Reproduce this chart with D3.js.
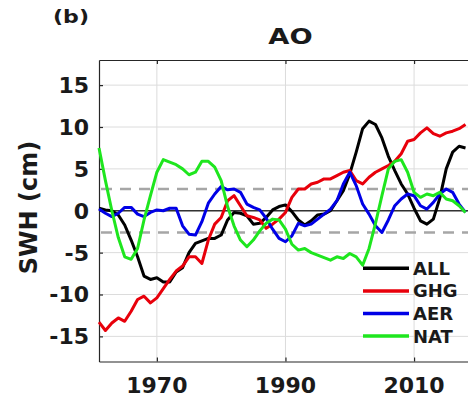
<!DOCTYPE html>
<meta charset="utf-8">
<style>
body { margin: 0; background: #fff; }
svg { display: block; overflow: hidden; }
text { font-family: "DejaVu Sans", sans-serif; font-weight: bold; fill: #1a1a1a; }
.grid line { stroke: #dcdcdc; stroke-width: 1; }
.axis path, .axis line { stroke: #262626; stroke-width: 1.2; }
.series { fill: none; stroke-width: 3; stroke-linejoin: round; }
</style>
<body>
<script src="https://cdn.jsdelivr.net/npm/d3@7"></script>
<script>

var width = 468, height = 399;

// annual values, 1961-2018
var years = d3.range(1961, 2019);
var all = [0.3, 0.1, 0, -0.5, -1.7, -3.5, -5.5, -7.8, -8.2, -8.0,
           -8.5, -8.5, -7.3, -6.8, -5.0, -3.9, -3.6, -3.3, -3.3, -2.9,
           -1.1, -0.2, -0.3, -0.6, -1.6, -1.5, -0.8, 0.1, 0.5, 0.7,
           -0.1, -1.1, -1.7, -1.2, -0.5, -0.4, 0, 1.2, 2.4, 4.4,
           7.0, 9.8, 10.7, 10.3, 8.7, 6.5, 4.8, 3.2, 2.0, 0.3,
           -1.2, -1.6, -1.0, 1.5, 5.0, 7.0, 7.7, 7.5];
var ghg = [-13.3, -14.3, -13.4, -12.8, -13.2, -12.0, -10.6, -10.2, -11.0, -10.4,
           -9.3, -8.2, -7.2, -6.6, -5.5, -5.5, -6.3, -3.5, -1.6, -0.8,
           1.2, 1.8, 0.6, -0.6, -0.8, -1.1, -2.1, -1.6, -1.0, -0.2,
           1.6, 2.6, 2.6, 3.2, 3.4, 3.8, 3.8, 4.2, 4.6, 4.8,
           3.6, 3.2, 4.0, 4.6, 5.0, 5.4, 5.9, 6.8, 8.3, 8.5,
           9.3, 9.9, 9.2, 8.9, 9.3, 9.5, 9.8, 10.3];
var aer = [0.2, -0.3, -0.7, -0.3, 0.4, 0.4, -0.4, -0.7, -0.2, 0.1,
           0, 0.3, 0.3, -1.8, -2.8, -2.9, -1.3, 0.9, 2.0, 2.9,
           2.5, 2.6, 2.2, 0.8, 0.4, 0.1, -0.9, -2.2, -3.3, -3.7,
           -3.0, -1.5, -1.8, -1.6, -1.0, -0.4, 0.2, 1.2, 3.2, 4.6,
           3.0, 0.8, -0.4, -1.8, -2.6, -1.1, 0.6, 1.4, 2.0, 1.8,
           0.6, 0.2, 1.0, 2.0, 2.6, 2.2, 0.8, -0.2];
var nat = [7.5, 3.6, 0, -3.2, -5.5, -5.8, -4.5, -1.1, 1.8, 4.6,
           6.1, 5.8, 5.5, 5.0, 4.3, 4.6, 5.9, 5.9, 5.2, 3.6,
           0.5, -1.8, -3.5, -4.3, -3.5, -2.4, -1.5, -1.0, -1.1, -2.2,
           -4.0, -4.7, -4.5, -5.0, -5.3, -5.6, -5.9, -5.5, -5.7, -5.1,
           -5.5, -6.5, -4.5, -1.5, 1.8, 5.0, 5.9, 6.1, 4.6, 2.2,
           1.6, 2.0, 1.8, 2.2, 1.4, 1.2, 0.6, -0.2];

var seriesNames = ["ALL", "GHG", "AER", "NAT"];
var seriesColors = ["#000000", "#e8000b", "#0000e6", "#1ee61e"];
var seriesData = [all, ghg, aer, nat];

var xTicks = [1970, 1990, 2010];
var yTicks = [-15, -10, -5, 0, 5, 10, 15];
var threshold = 2.6; // dashed band

var plotLeft = 99, plotTop = 60, plotBottom = 361.5;

var x = d3.scaleLinear().domain([1961, 2020]).range([plotLeft, plotLeft + 59 * 6.43]);
var y = d3.scaleLinear().domain([-18, 18]).range([plotBottom, plotTop]);

var svg = d3.select("body").append("svg")
    .attr("width", width)
    .attr("height", height);

// grid
var grid = svg.append("g").attr("class", "grid");
grid.selectAll("line.gx").data(xTicks).enter().append("line")
    .attr("x1", d => x(d)).attr("x2", d => x(d))
    .attr("y1", plotTop).attr("y2", plotBottom);
grid.selectAll("line.gy").data(yTicks).enter().append("line")
    .attr("x1", plotLeft).attr("x2", x(2020))
    .attr("y1", d => y(d)).attr("y2", d => y(d));

// zero line and dashed band
svg.append("line")
    .attr("x1", plotLeft).attr("x2", x(2020))
    .attr("y1", y(0)).attr("y2", y(0))
    .attr("stroke", "#333").attr("stroke-width", 1.3);

svg.selectAll("line.band").data([threshold, -threshold]).enter().append("line")
    .attr("x1", plotLeft + 2).attr("x2", x(2020))
    .attr("y1", d => y(d)).attr("y2", d => y(d))
    .attr("stroke", "#a6a6a6").attr("stroke-width", 2.6)
    .attr("stroke-dasharray", "11,8");

// axes (ticks pointing inward)
svg.append("g").attr("class", "axis")
    .attr("transform", "translate(" + plotLeft + ",0)")
    .call(d3.axisLeft(y).tickValues(yTicks).tickSize(-4).tickSizeOuter(0).tickFormat(""));
svg.append("g").attr("class", "axis")
    .attr("transform", "translate(0," + plotBottom + ")")
    .call(d3.axisBottom(x).tickValues(xTicks).tickSize(-4).tickSizeOuter(0).tickFormat(""));
svg.append("g").attr("class", "axis")
    .attr("transform", "translate(0," + plotTop + ")")
    .call(d3.axisTop(x).tickValues(xTicks).tickSize(-4).tickSizeOuter(0).tickFormat(""));

// tick labels
svg.selectAll("text.ylab").data(yTicks).enter().append("text")
    .attr("x", 89).attr("y", d => y(d)).attr("dy", "0.36em")
    .attr("text-anchor", "end")
    .style("font-size", "22px")
    .text(d => d);
svg.selectAll("text.xlab").data(xTicks).enter().append("text")
    .attr("x", d => x(d)).attr("y", 392.5)
    .attr("text-anchor", "middle")
    .style("font-size", "22px")
    .text(d => d);

// series
var line = d3.line()
    .x((d, i) => x(years[i]))
    .y(d => y(d));

svg.selectAll("path.series").data(seriesData).enter().append("path")
    .attr("class", "series")
    .attr("d", d => line(d))
    .attr("stroke", (d, i) => seriesColors[i]);

// legend
var legend = svg.selectAll("g.legend").data(seriesNames).enter().append("g")
    .attr("class", "legend")
    .attr("transform", (d, i) => "translate(0," + (268.3 + i * 22.6) + ")");
legend.append("line")
    .attr("x1", 363).attr("x2", 409)
    .attr("stroke", (d, i) => seriesColors[i])
    .attr("stroke-width", 3.5);
legend.append("text")
    .attr("x", 413).attr("dy", "0.36em")
    .style("font-size", "18px")
    .text(d => d);

// titles (the original lettering is wider than DejaVu, so stretch a bit)
svg.append("text")
    .attr("transform", "translate(290.5,43.5) scale(1.3,1)")
    .attr("text-anchor", "middle")
    .style("font-size", "21px")
    .text("AO");
svg.append("text")
    .attr("transform", "translate(71,23) scale(1.3,1)")
    .attr("text-anchor", "middle")
    .style("font-size", "17px")
    .text("(b)");
svg.append("text")
    .attr("transform", "translate(37,207.5) rotate(-90)")
    .attr("text-anchor", "middle")
    .style("font-size", "24px")
    .text("SWH (cm)");

</script>
